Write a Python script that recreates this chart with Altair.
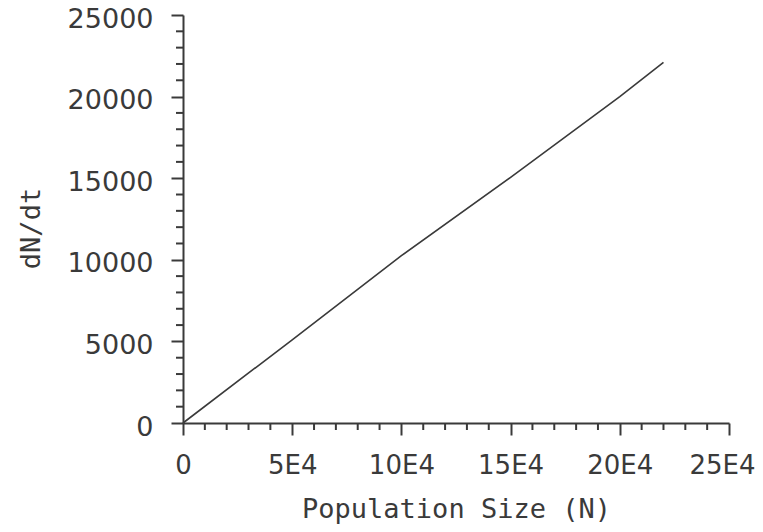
import altair as alt
import pandas as pd

# data
pop_size = [0, 50000, 100000, 150000, 200000, 220000]
growth = [0, 5100, 10250, 15050, 20000, 22100]

x_major = [0, 50000, 100000, 150000, 200000, 250000]
y_major = [0, 5000, 10000, 15000, 20000, 25000]
x_minor = [v for v in range(10000, 250000, 10000) if v % 50000 != 0]
y_minor = [v for v in range(1000, 25000, 1000) if v % 5000 != 0]

LFONT = "DejaVu Sans"
TFONT = "DejaVu Sans Mono"
INK = "#3a3a3a"

line_df = pd.DataFrame({"N": pop_size, "dNdt": growth})
xminor_df = pd.DataFrame({"N": x_minor})
yminor_df = pd.DataFrame({"dNdt": y_minor})

xscale = alt.Scale(domain=[0, 250000], nice=False, zero=True)
yscale = alt.Scale(domain=[0, 25000], nice=False, zero=True)

line = alt.Chart(line_df).mark_line(color=INK, strokeWidth=1.6).encode(
    x=alt.X("N:Q", scale=xscale, title="Population Size (N)",
            axis=alt.Axis(values=x_major, tickSize=12, tickWidth=2, tickColor=INK,
                          domainColor=INK, domainWidth=2, grid=False,
                          labelExpr="datum.value == 0 ? '0' : format(datum.value/10000, 'd') + 'E4'",
                          labelFont=LFONT, labelFontSize=26, labelColor=INK,
                          labelPadding=17, labelFlush=False,
                          labelOffset={"condition": {"test": "datum.value == 250000", "value": -7}, "value": 0},
                          titleFont=TFONT, titleFontSize=27, titleFontWeight="normal",
                          titleColor=INK, titlePadding=18)),
    y=alt.Y("dNdt:Q", scale=yscale, title="dN/dt",
            axis=alt.Axis(values=y_major, tickSize=12, tickWidth=2, tickColor=INK,
                          domainColor=INK, domainWidth=2, grid=False, format="d",
                          labelFont=LFONT, labelFontSize=27, labelColor=INK,
                          labelPadding=18, labelOffset=4, labelFlush=False,
                          titleFont=TFONT, titleFontSize=27, titleFontWeight="normal",
                          titleColor=INK, titlePadding=22, titleY=213)),
)

xminor = alt.Chart(xminor_df).mark_rule(color=INK, strokeWidth=2).encode(
    x=alt.X("N:Q", scale=xscale),
    y=alt.value(408), y2=alt.value(415),
)

yminor = alt.Chart(yminor_df).mark_rule(color=INK, strokeWidth=2).encode(
    y=alt.Y("dNdt:Q", scale=yscale),
    x=alt.value(-7), x2=alt.value(0),
)

chart = alt.layer(line, xminor, yminor).properties(
    width=546, height=408,
    background="white",
    autosize=alt.AutoSizeParams(type="none"),
    padding={"left": 175, "top": 7, "right": 26, "bottom": 101},
).configure_view(stroke=None)

chart.save("out.html", embed_options={"renderer": "svg", "actions": False})
